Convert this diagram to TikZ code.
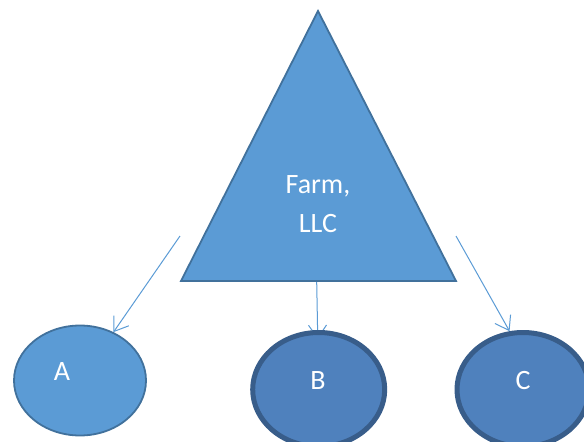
\documentclass[tikz,border=0pt]{standalone}
\usepackage{fontspec}
\setmainfont{Carlito}
\usetikzlibrary{arrows.meta,shapes.geometric,backgrounds}
\definecolor{farmblue}{RGB}{91,155,213}
\definecolor{farmedge}{RGB}{65,113,156}
\definecolor{memberblue}{RGB}{79,129,189}
\definecolor{memberedge}{RGB}{56,93,138}

\begin{document}
\begin{tikzpicture}[x=1pt,y=1pt,yscale=-1,
  farm/.style={fill=farmblue,draw=farmedge,line width=1.8},
  member/.style={ellipse,inner sep=0,minimum width=132,minimum height=110},
  lightmember/.style={member,fill=farmblue,draw=farmedge,line width=1.8},
  darkmember/.style={member,fill=memberblue,draw=memberedge,line width=5,minimum height=114},
  link/.style={draw=farmblue,line width=1,-{Straight Barb[length=13pt,width=18pt]}},
  lbl/.style={text=white,inner sep=0,font=\fontsize{28}{38.5}\selectfont}]
\useasboundingbox (0,0) rectangle (584,442);

%Shape: Triangle
\coordinate (apex) at (318,11);
\coordinate (baseL) at (181,281);
\coordinate (baseR) at (456,281);
\draw [farm] (apex) -- (baseR) -- (baseL) -- cycle ;

% Text Node
\node [lbl,align=center,anchor=base] (farmtext) at (318,232) {Farm,\\LLC};

%Shape: Ellipse
\node [lightmember] (A) at (80,380.5) {};
%Shape: Ellipse
\node [darkmember] (B) at (318.7,389.5) {};
%Shape: Ellipse
\node [darkmember] (C) at (523,389.5) {};

% Text Node
\node [lbl,anchor=base] (labelA) at (62,380) {A};
% Text Node
\node [lbl,anchor=base] (labelB) at (318,389) {B};
% Text Node
\node [lbl,anchor=base] (labelC) at (523,389) {C};

%Straight Lines
\coordinate (startA) at (180,236);
\coordinate (startB) at (316.7,282);
\coordinate (startC) at (456,236);
\begin{scope}[on background layer]
\draw [link] (startA) -- (A);
\draw [link,shorten >=-9pt] (startB) -- (B);
\draw [link] (startC) -- (C.103);
\end{scope}

\end{tikzpicture}
\end{document}
